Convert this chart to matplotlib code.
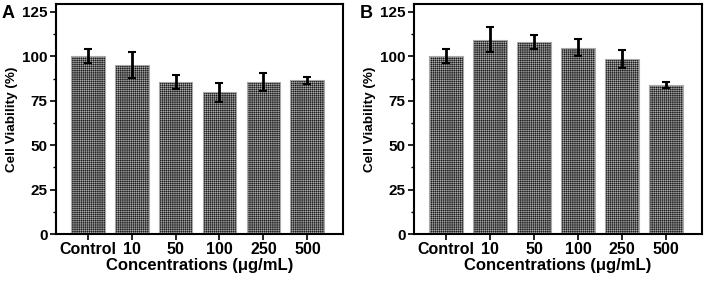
import matplotlib
matplotlib.use('Agg')
import matplotlib.pyplot as plt
from matplotlib.ticker import MultipleLocator

plt.rcParams['font.family'] = ['Liberation Sans', 'DejaVu Sans']
plt.rcParams['font.weight'] = 'bold'
plt.rcParams['hatch.color'] = '#e8e8e8'
plt.rcParams['hatch.linewidth'] = 0.25

categories = ['Control', '10', '50', '100', '250', '500']
vals_a = [100, 95, 85.5, 79.7, 85.5, 86.5]
err_a = [4, 7.3, 4, 5.2, 5, 1.8]
vals_b = [100.2, 109.5, 108.3, 105, 98.7, 83.9]
err_b = [4.1, 7, 4, 5, 5, 1.8]
yticks = [0, 25, 50, 75, 100, 125]

fig = plt.figure(figsize=(7.06, 2.82), dpi=100)
ax_a = fig.add_axes([56/706, 48/282, 287/706, 230/282])
ax_b = fig.add_axes([414/706, 48/282, 288/706, 230/282])

for ax, vals, errs, tag, lx in [(ax_a, vals_a, err_a, 'A', 2/706), (ax_b, vals_b, err_b, 'B', 360/706)]:
    x = range(len(categories))
    ax.bar(x, vals, width=0.77, color='#1e1e1e', edgecolor='#e8e8e8', hatch='++++++++', linewidth=0)
    ax.bar(x, vals, width=0.77, color='none', edgecolor='#a8a8a8', linewidth=0.8)
    ax.errorbar(x, vals, yerr=errs, fmt='none', ecolor='black', elinewidth=2, capsize=2.8, capthick=1.5)
    ax.set_xlim(-0.72, 5.81)
    ax.set_ylim(0, 129.5)
    ax.set_xticks(list(x))
    ax.set_xticklabels(categories, fontsize=11.5, fontweight='bold')
    ax.set_yticks(yticks)
    ax.set_yticklabels([str(t) for t in yticks], fontsize=11, fontweight='bold')
    ax.yaxis.set_minor_locator(MultipleLocator(12.5))
    ax.tick_params(axis='both', which='major', direction='out', length=4, width=1.2, pad=2)
    ax.tick_params(axis='y', which='minor', direction='out', length=2, width=1)
    for s in ax.spines.values():
        s.set_linewidth(1.5)
    ax.set_ylabel('Cell Viability (%)', fontsize=9.7, fontweight='bold', labelpad=3)
    ax.set_xlabel('Concentrations (μg/mL)', fontsize=12, fontweight='bold', labelpad=0.5)
    fig.text(lx, 1 - 5/282, tag, fontsize=13, fontweight='bold', va='top', ha='left')

fig.savefig('out.png', dpi=100)
